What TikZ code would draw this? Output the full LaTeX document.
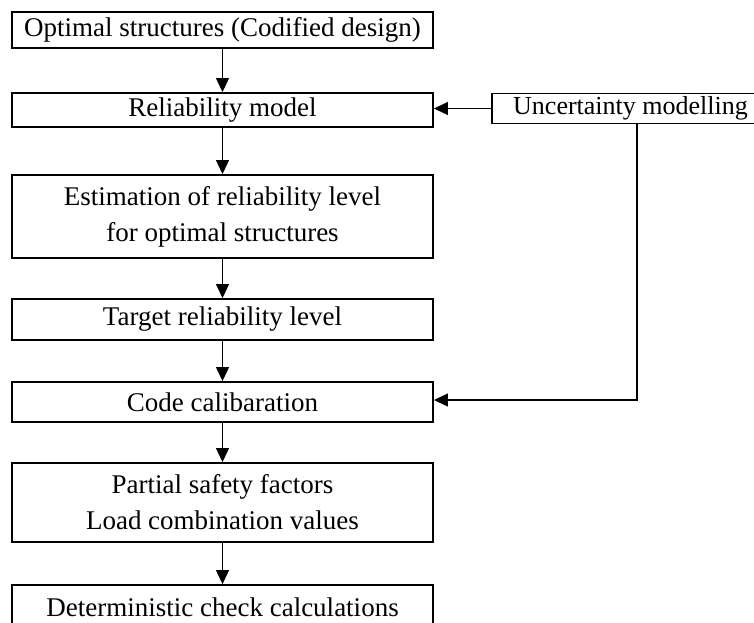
\documentclass[tikz,border=0pt]{standalone}
\usepackage{fontspec}
\setmainfont{Liberation Serif}
\usetikzlibrary{arrows.meta}
\begin{document}
\begin{tikzpicture}[x=1pt,y=-1pt,
  box/.style={draw=black,line width=1.9pt,minimum width=421pt,inner sep=0pt,
    font=\fontsize{27}{36}\selectfont,align=center,text=black},
  lbl/.style={font=\fontsize{27}{36}\selectfont,text=black,inner sep=0pt},
  arr/.style={line width=1.1pt,-{Triangle[length=14pt,width=13pt]}}]
\useasboundingbox (0,0) rectangle (754,622);
\clip (0,0) rectangle (754,622);
\node[box,minimum height=36pt] (b1) at (222.5,30) {Optimal structures (Codified design)};
\node[box,minimum height=34pt] (b2) at (222.5,110) {Reliability model};
\node[box,minimum height=83pt] (b3) at (222.5,216.5) {Estimation of reliability level\\for optimal structures};
\node[box,minimum height=41pt] (b4) at (222.5,319.5) {Target reliability level};
\node[box,minimum height=40pt] (b5) at (222.5,402) {Code calibaration};
\node[box,minimum height=79pt] (b6) at (222.5,502.5) {Partial safety factors\\Load combination values};
\node[box,minimum height=60pt] (b7) at (222.5,615) {};
\node[lbl] (t7) at (222.5,607) {Deterministic check calculations};
\node[box,minimum width=284pt,minimum height=30pt] (u) at (634,108.5) {};
\node[lbl,anchor=west,font=\fontsize{26}{30}\selectfont] (ut) at (513,108) {Uncertainty modelling};
\coordinate (c1) at (637,400);
\draw[arr] (b1) -- (b2);
\draw[arr] (b2) -- (b3);
\draw[arr] (b3) -- (b4);
\draw[arr] (b4) -- (b5);
\draw[arr] (b5) -- (b6);
\draw[arr] (b6) -- (b7);
\draw[arr] (u.west) -- (b2.east |- u.west);
\draw[arr] (u.south -| c1) -- (c1) -- (b5.east |- c1);
\end{tikzpicture}
\end{document}
